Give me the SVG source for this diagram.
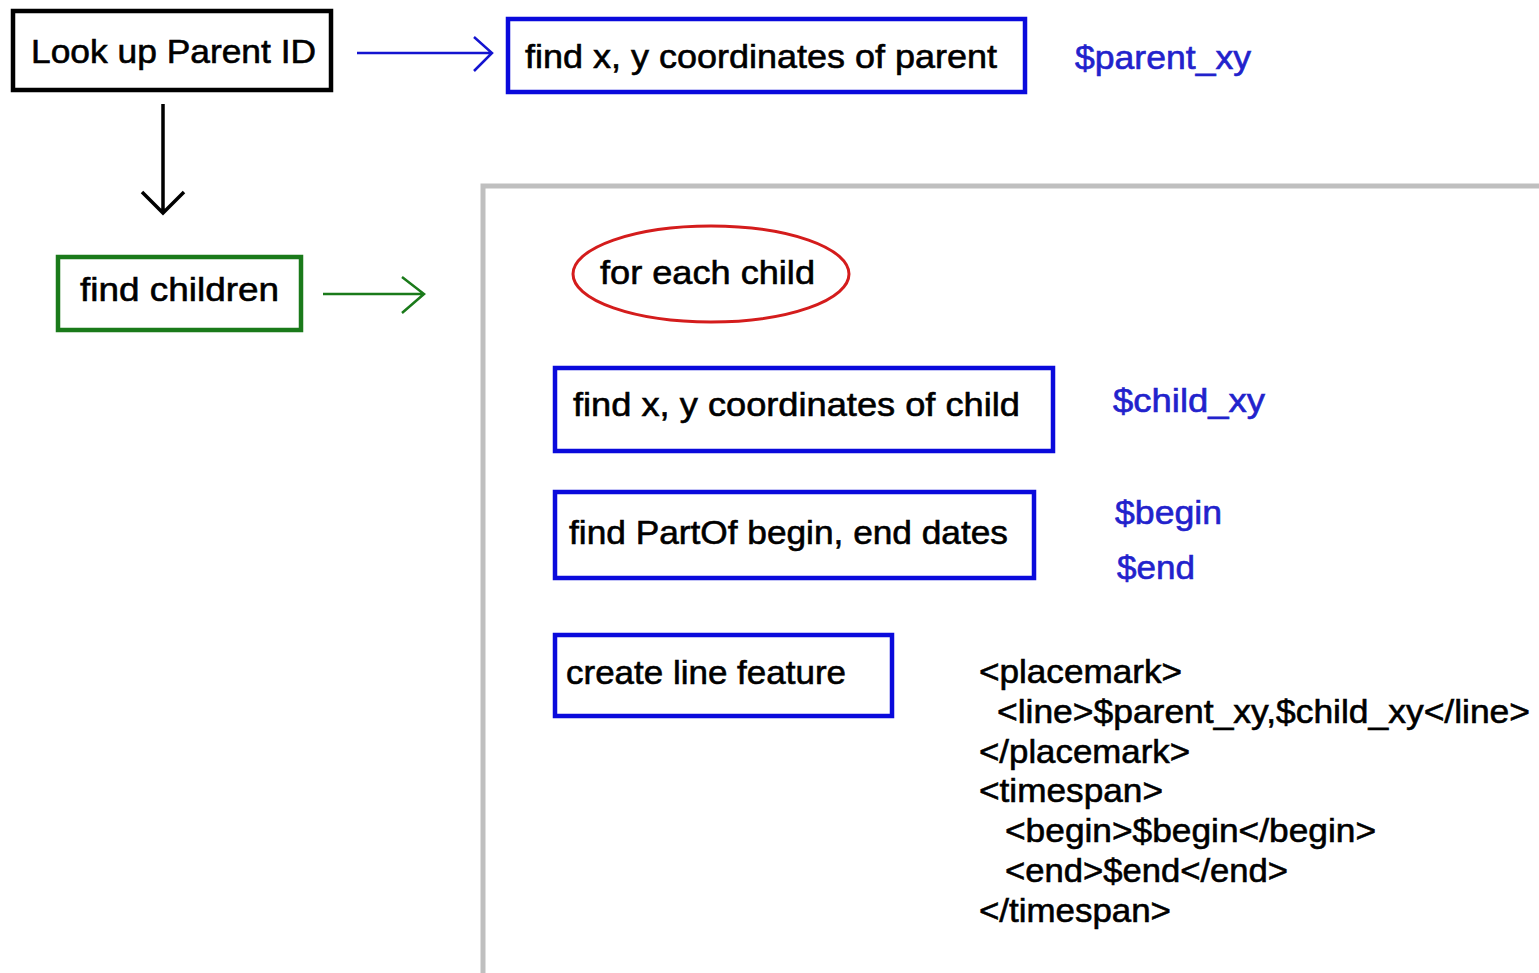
<svg xmlns="http://www.w3.org/2000/svg" width="1539" height="973" viewBox="0 0 1539 973">
<defs>
<style>
.t{font-family:"Liberation Sans",Arial,sans-serif;font-size:34px;fill:#000;stroke:#000;stroke-width:0.6}
.v{font-family:"Liberation Sans",Arial,sans-serif;font-size:34px;fill:#2222cc;stroke:#2222cc;stroke-width:0.6}
.bb{fill:#fff;stroke:#0a0adc;stroke-width:4.5}
.line{fill:none;stroke-width:2.5}
</style>
</defs>
<rect width="1539" height="973" fill="#fff"/>
<rect id="frame" x="483" y="186" width="1070" height="800" fill="none" stroke="#bfbfbf" stroke-width="5"/>
<g id="connectors">
<path class="line" stroke="#1414d0" d="M357 53H491M474 37L492 53L474 71"/>
<path fill="none" stroke="#000" style="stroke-width:3.5" d="M163 104V212M142 192L163 213L184 192"/>
<path class="line" stroke="#1a7a1a" d="M323 294H423M402 277L424 294L402 313"/>
</g>
<g id="lookup">
<rect x="13" y="11" width="318" height="79" fill="#fff" stroke="#000" stroke-width="4.5"/>
<text class="t" x="31" y="63" textLength="285" lengthAdjust="spacingAndGlyphs">Look up Parent ID</text>
</g>
<g id="parentxy">
<rect class="bb" x="508" y="19" width="517" height="73"/>
<text class="t" x="525" y="68" textLength="472" lengthAdjust="spacingAndGlyphs">find x, y coordinates of parent</text>
</g>
<text class="v" x="1075" y="69" textLength="176" lengthAdjust="spacingAndGlyphs">$parent_xy</text>
<g id="children">
<rect x="58" y="257" width="243" height="73" fill="#fff" stroke="#1a7a1a" stroke-width="4.5"/>
<text class="t" x="80" y="301" textLength="199" lengthAdjust="spacingAndGlyphs">find children</text>
</g>
<g id="foreach">
<ellipse cx="711" cy="274" rx="138" ry="48" fill="#fff" stroke="#d41c1c" stroke-width="3"/>
<text class="t" x="600" y="284" textLength="215" lengthAdjust="spacingAndGlyphs">for each child</text>
</g>
<g id="childxy">
<rect class="bb" x="555" y="368" width="498" height="83"/>
<text class="t" x="573" y="416" textLength="447" lengthAdjust="spacingAndGlyphs">find x, y coordinates of child</text>
</g>
<text class="v" x="1113" y="412" textLength="152" lengthAdjust="spacingAndGlyphs">$child_xy</text>
<g id="dates">
<rect class="bb" x="555" y="492" width="479" height="86"/>
<text class="t" x="569" y="544" textLength="439" lengthAdjust="spacingAndGlyphs">find PartOf begin, end dates</text>
</g>
<text class="v" x="1115" y="524" textLength="107" lengthAdjust="spacingAndGlyphs">$begin</text>
<text class="v" x="1117" y="579" textLength="78" lengthAdjust="spacingAndGlyphs">$end</text>
<g id="createline">
<rect class="bb" x="555" y="635" width="337" height="81"/>
<text class="t" x="566" y="684" textLength="280" lengthAdjust="spacingAndGlyphs">create line feature</text>
</g>
<g id="code">
<text class="t" x="979" y="683" textLength="203" lengthAdjust="spacingAndGlyphs">&lt;placemark&gt;</text>
<text class="t" x="997" y="723" textLength="533" lengthAdjust="spacingAndGlyphs">&lt;line&gt;$parent_xy,$child_xy&lt;/line&gt;</text>
<text class="t" x="979" y="763" textLength="211" lengthAdjust="spacingAndGlyphs">&lt;/placemark&gt;</text>
<text class="t" x="979" y="802" textLength="184" lengthAdjust="spacingAndGlyphs">&lt;timespan&gt;</text>
<text class="t" x="1005" y="842" textLength="371" lengthAdjust="spacingAndGlyphs">&lt;begin&gt;$begin&lt;/begin&gt;</text>
<text class="t" x="1005" y="882" textLength="283" lengthAdjust="spacingAndGlyphs">&lt;end&gt;$end&lt;/end&gt;</text>
<text class="t" x="979" y="922" textLength="192" lengthAdjust="spacingAndGlyphs">&lt;/timespan&gt;</text>
</g>
</svg>
